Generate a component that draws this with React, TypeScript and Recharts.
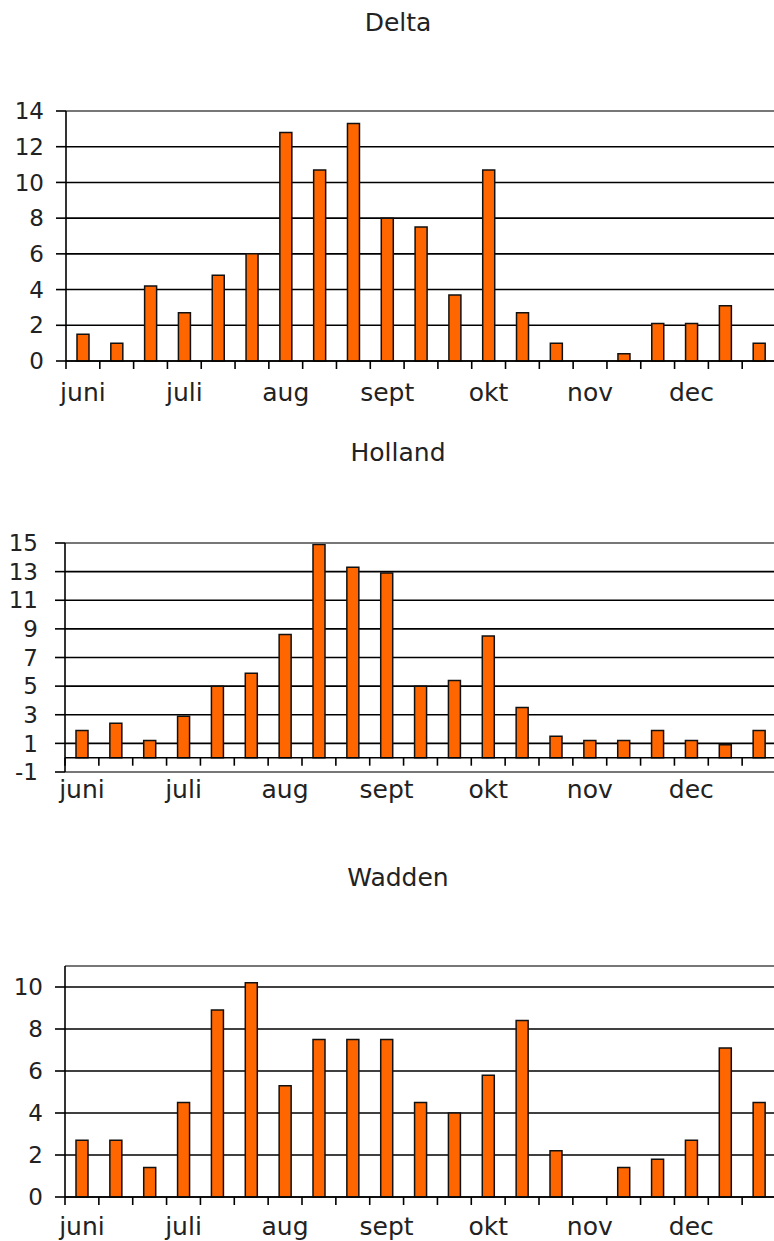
import { BarChart, Bar, XAxis, YAxis, CartesianGrid, ReferenceLine } from 'recharts';

// three ten-day periods per month
const months = ['juni', 'juli', 'aug', 'sept', 'okt', 'nov', 'dec'];
const periods = ['1', '2', '3'];
const categories = months.flatMap(m => periods.map(p => `${m} ${p}`));

const deltaValues = [1.5, 1.0, 4.2, 2.7, 4.8, 6.0, 12.8, 10.7, 13.3, 8.0, 7.5, 3.7, 10.7, 2.7, 1.0, 0, 0.4, 2.1, 2.1, 3.1, 1.0];
const hollandValues = [1.9, 2.4, 1.2, 2.9, 5.0, 5.9, 8.6, 14.9, 13.3, 12.9, 5.0, 5.4, 8.5, 3.5, 1.5, 1.2, 1.2, 1.9, 1.2, 0.9, 1.9];
const waddenValues = [2.7, 2.7, 1.4, 4.5, 8.9, 10.2, 5.3, 7.5, 7.5, 7.5, 4.5, 4.0, 5.8, 8.4, 2.2, 0, 1.4, 1.8, 2.7, 7.1, 4.5];

const deltaTicks = [0, 2, 4, 6, 8, 10, 12, 14];
const hollandTicks = [-1, 1, 3, 5, 7, 9, 11, 13, 15];
const waddenTicks = [0, 2, 4, 6, 8, 10];

const FONT = '"DejaVu Sans", Verdana, sans-serif';
const TEXT = '#222';

// category axis drawn at value 0, with tick marks between categories
const ZeroAxis = (props: any) => {
  const { x1, x2, y1 } = props;
  const step = (x2 - x1) / categories.length;
  return (
    <g>
      <line x1={x1} x2={x2} y1={y1} y2={y1} stroke="#000" strokeWidth={1.6} />
      {Array.from({ length: categories.length }).map((_, i) => (
        <line key={i} x1={x1 + i * step} x2={x1 + i * step} y1={y1} y2={y1 + 8} stroke="#000" strokeWidth={1.6} />
      ))}
    </g>
  );
};

interface PanelProps {
  title: string;
  values: number[];
  ticks: number[];
  domain: [number, number];
  top: number;
  titleTop: number;
  marginTop: number;
  plotHeight: number;
  yWidth: number;
  yMargin: number;
  labelDy: number;
}

function Panel({ title, values, ticks, domain, top, titleTop, marginTop, plotHeight, yWidth, yMargin, labelDy }: PanelProps) {
  const data = categories.map((c, i) => ({ cat: c, value: values[i] }));

  const MonthTick = (props: any) => {
    const { x, y, payload } = props;
    const idx = categories.indexOf(payload.value);
    if (idx % 3 !== 0) return <g />;
    return (
      <text x={x} y={y + labelDy} textAnchor="middle" fill={TEXT} fontSize={25} fontFamily={FONT}>
        {months[idx / 3]}
      </text>
    );
  };

  return (
    <>
      <div style={{ position: 'absolute', left: 0, top: titleTop, width: 796, textAlign: 'center', fontSize: 25, lineHeight: '25px', color: TEXT }}>
        {title}
      </div>
      <div style={{ position: 'absolute', left: 0, top }}>
        {/* the plot runs just past the right edge of the picture */}
        <BarChart width={774} height={marginTop + plotHeight + 50} data={data} margin={{ top: marginTop, right: -2, left: 0, bottom: 0 }}>
          <CartesianGrid vertical={false} stroke="#000" strokeWidth={1.6} />
          <ReferenceLine y={domain[1]} stroke="#8a8a8a" strokeWidth={1.6} />
          {domain[0] < 0 && <ReferenceLine y={domain[0]} stroke="#8a8a8a" strokeWidth={1.6} />}
          <XAxis dataKey="cat" height={50} axisLine={false} tickLine={false} tickSize={0} tickMargin={0} interval={0} tick={<MonthTick />} />
          <YAxis
            type="number"
            domain={domain}
            ticks={ticks}
            interval={0}
            width={yWidth}
            tickSize={10}
            tickMargin={yMargin}
            axisLine={{ stroke: '#000', strokeWidth: 1.6 }}
            tickLine={{ stroke: '#000', strokeWidth: 1.6 }}
            tick={{ fill: TEXT, fontSize: 23, fontFamily: FONT }}
          />
          <Bar dataKey="value" fill="#FF6600" stroke="#111" strokeWidth={1.5} barSize={12} isAnimationActive={false} />
          <ReferenceLine y={0} shape={ZeroAxis} />
        </BarChart>
      </div>
    </>
  );
}

export default function App() {
  return (
    <div style={{ position: 'absolute', left: 0, top: 0, width: 774, height: 1241, overflow: 'hidden', background: '#fff', fontFamily: FONT }}>
      <Panel title="Delta" values={deltaValues} ticks={deltaTicks} domain={[0, 14]}
        top={80} titleTop={10} marginTop={31} plotHeight={250} yWidth={66} yMargin={12} labelDy={40} />
      <Panel title="Holland" values={hollandValues} ticks={hollandTicks} domain={[-1, 15]}
        top={510} titleTop={440} marginTop={33} plotHeight={229} yWidth={65} yMargin={17} labelDy={26} />
      <Panel title="Wadden" values={waddenValues} ticks={waddenTicks} domain={[0, 11]}
        top={935} titleTop={865} marginTop={31} plotHeight={231} yWidth={65} yMargin={12} labelDy={38} />
    </div>
  );
}
